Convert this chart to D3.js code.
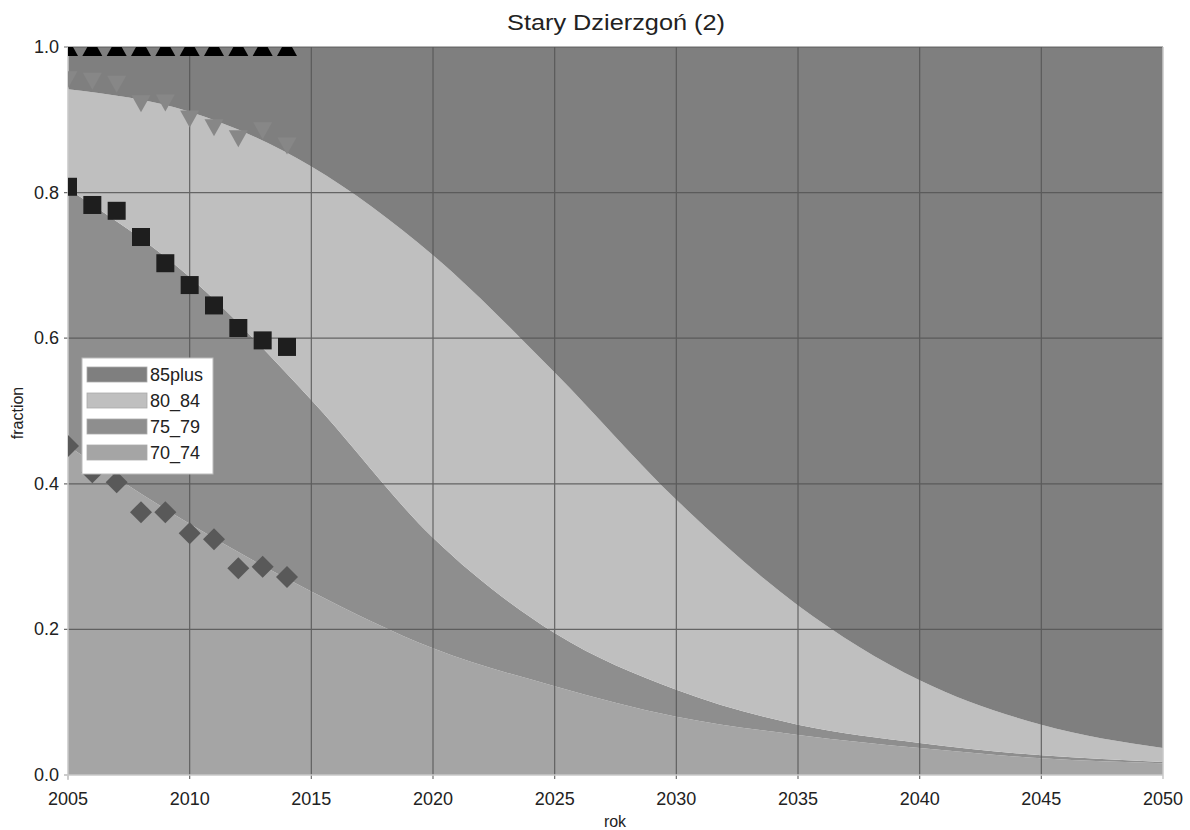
<!DOCTYPE html>
<html><head><meta charset="utf-8">
<script src="https://cdn.jsdelivr.net/npm/d3@7"></script>
<style>body{margin:0;background:#fff;} text{font-family:"Liberation Sans",Arial,sans-serif;fill:#222;}</style>
</head><body><svg id="c" width="1190" height="830"></svg>
<script>
// projection years and per-group shares
const years = [2005, 2010, 2015, 2020, 2025, 2030, 2035, 2040, 2045, 2050];
const share70_74  = [0.452, 0.345, 0.252, 0.174, 0.122, 0.080, 0.055, 0.037, 0.023, 0.016];
const share75_79  = [0.353, 0.339, 0.263, 0.152, 0.073, 0.037, 0.014, 0.007, 0.004, 0.002];
const share80_84  = [0.137, 0.227, 0.321, 0.388, 0.358, 0.261, 0.164, 0.086, 0.042, 0.019];
const share85plus = [0.058, 0.089, 0.164, 0.286, 0.447, 0.622, 0.767, 0.870, 0.931, 0.963];

// observed cumulative fractions (markers)
const obsYears = [2005, 2006, 2007, 2008, 2009, 2010, 2011, 2012, 2013, 2014];
const obsCum70_74  = [0.452, 0.416, 0.402, 0.361, 0.361, 0.332, 0.324, 0.284, 0.286, 0.272];
const obsCum75_79  = [0.808, 0.783, 0.775, 0.739, 0.703, 0.673, 0.645, 0.614, 0.597, 0.588];
const obsCum80_84  = [0.955, 0.953, 0.949, 0.922, 0.923, 0.901, 0.889, 0.874, 0.885, 0.864];
const obsCum85plus = [1, 1, 1, 1, 1, 1, 1, 1, 1, 1];

const xTicks = [2005, 2010, 2015, 2020, 2025, 2030, 2035, 2040, 2045, 2050];
const yTicks = [0, 0.2, 0.4, 0.6, 0.8, 1.0];
const stackKeys = ["70_74", "75_79", "80_84", "85plus"];
const legendKeys = ["85plus", "80_84", "75_79", "70_74"];
const titleText = "Stary Dzierzgoń (2)";

const colors = {"85plus": "#7f7f7f", "80_84": "#bfbfbf", "75_79": "#8e8e8e", "70_74": "#a5a5a5"};

const svg = d3.select("#c");
const L = 68, R = 1163, T = 47, B = 775;
const x = d3.scaleLinear().domain([2005, 2050]).range([L, R]);
const y = d3.scaleLinear().domain([0, 1]).range([B, T]);

const table = years.map((yr, i) => ({year: yr, "70_74": share70_74[i], "75_79": share75_79[i], "80_84": share80_84[i], "85plus": share85plus[i]}));
const stacked = d3.stack().keys(stackKeys)(table);

svg.append("defs").append("clipPath").attr("id", "clip")
  .append("rect").attr("x", L).attr("y", T).attr("width", R - L).attr("height", B - T);

const area = d3.area().curve(d3.curveMonotoneX)
  .x(d => x(d.data.year)).y0(d => y(d[0])).y1(d => y(d[1]));
const gArea = svg.append("g").attr("clip-path", "url(#clip)");
stacked.forEach(s => {
  gArea.append("path").attr("d", area(s)).attr("fill", colors[s.key]);
});

// grid
const grid = svg.append("g").attr("stroke", "#555").attr("stroke-width", 1.2).attr("opacity", 0.85);
xTicks.filter(t => t > 2005 && t < 2050).forEach(t => {
  grid.append("line").attr("x1", x(t)).attr("x2", x(t)).attr("y1", T).attr("y2", B + 4);
});
yTicks.filter(t => t > 0).forEach(t => {
  grid.append("line").attr("x1", L - 4).attr("x2", R).attr("y1", y(t)).attr("y2", y(t));
});
// axes (light)
const ax = svg.append("g").attr("stroke", "#c8c8c8").attr("stroke-width", 1.5);
ax.append("line").attr("x1", L).attr("x2", L).attr("y1", T).attr("y2", B + 4);
ax.append("line").attr("x1", L - 4).attr("x2", R).attr("y1", B).attr("y2", B);
ax.append("line").attr("x1", R).attr("x2", R).attr("y1", T).attr("y2", B + 4);
ax.append("line").attr("x1", L - 4).attr("x2", L).attr("y1", y(0)).attr("y2", y(0));
ax.append("line").attr("x1", x(2005)).attr("x2", x(2005)).attr("y1", B).attr("y2", B + 5);

// tick labels
svg.append("g").selectAll("text").data(xTicks).join("text")
  .attr("x", d => x(d)).attr("y", 805).attr("text-anchor", "middle")
  .attr("font-size", 18).text(d => d);
svg.append("g").selectAll("text").data(yTicks).join("text")
  .attr("x", 59).attr("y", d => y(d) + 6).attr("text-anchor", "end")
  .attr("font-size", 18).text(d => d.toFixed(1));

// titles
svg.append("text").attr("x", 507).attr("y", 30)
  .attr("font-size", 22).attr("textLength", 218).attr("lengthAdjust", "spacingAndGlyphs").text(titleText);
svg.append("text").attr("x", 615).attr("y", 827).attr("text-anchor", "middle")
  .attr("font-size", 16).text("rok");
svg.append("text").attr("transform", "translate(23,413) rotate(-90)").attr("text-anchor", "middle")
  .attr("font-size", 16).text("fraction");

// markers
const gM = svg.append("g").attr("clip-path", "url(#clip)");
const tri = (cx, cy, w, h, up) => up
  ? `M${cx - w/2},${cy + h/2}L${cx},${cy - h/2}L${cx + w/2},${cy + h/2}Z`
  : `M${cx - w/2},${cy - h/2}L${cx},${cy + h/2}L${cx + w/2},${cy - h/2}Z`;
obsYears.forEach((yr, i) => {
  const cx = x(yr);
  let cy = y(obsCum70_74[i]);
  gM.append("path").attr("d", `M${cx},${cy - 11}L${cx + 11},${cy}L${cx},${cy + 11}L${cx - 11},${cy}Z`).attr("fill", "#595959");
  cy = y(obsCum75_79[i]);
  gM.append("rect").attr("x", cx - 9).attr("y", cy - 9).attr("width", 18).attr("height", 18).attr("fill", "#1e1e1e");
  cy = y(obsCum80_84[i]);
  gM.append("path").attr("d", tri(cx, cy, 19, 17, false)).attr("fill", "#878787");
  cy = y(obsCum85plus[i]);
  gM.append("path").attr("d", tri(cx, cy, 20, 18, true)).attr("fill", "#000");
});

// legend
const lg = svg.append("g");
lg.append("rect").attr("x", 82).attr("y", 358).attr("width", 131).attr("height", 116)
  .attr("fill", "#fff").attr("stroke", "#bbb").attr("stroke-width", 1);
legendKeys.forEach((k, i) => {
  const yy = 367 + i * 26;
  lg.append("rect").attr("x", 87).attr("y", yy).attr("width", 60).attr("height", 15)
    .attr("fill", colors[k]).attr("stroke", "#aaa").attr("stroke-width", 0.8);
  lg.append("text").attr("x", 150).attr("y", yy + 14).attr("font-size", 18).text(k);
});
</script></body></html>
